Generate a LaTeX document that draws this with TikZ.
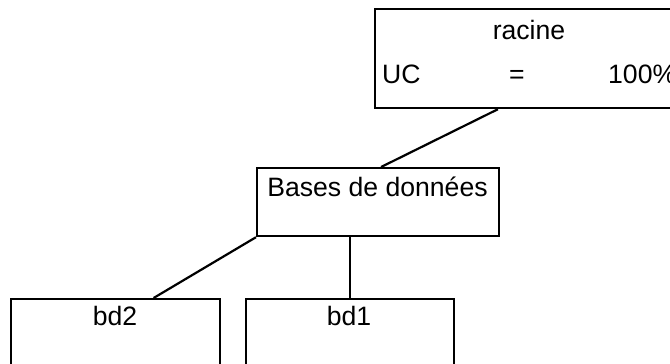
\documentclass[tikz,border=0pt]{standalone}
\usepackage{fontspec}
\setmainfont{Liberation Sans}
\usetikzlibrary{calc}
\begin{document}
\begin{tikzpicture}[x=1pt,y=-1pt,
  box/.style={draw=black, line width=2.2pt, fill=white, inner sep=0pt, anchor=north west},
  txt/.style={inner sep=0pt, anchor=base, font=\fontsize{26.6}{30}\selectfont},
  link/.style={draw=black, line width=2.2pt}]
  \useasboundingbox (0,0) rectangle (670,364);
  \clip (0,0) rectangle (670,364);

  % boxes
  \node[box, minimum width=310pt, minimum height=99pt] (racine) at (374,8) {};
  \node[box, minimum width=242pt, minimum height=68pt] (bases) at (256,167) {};
  \node[box, minimum width=209pt, minimum height=100pt] (bd2) at (10,298) {};
  \node[box, minimum width=208pt, minimum height=100pt] (bd1) at (245,298) {};

  % labels
  \node[txt] (tracine) at (529,39) {racine};
  \node[txt, anchor=base west] (tuc) at (382,83) {UC};
  \node[txt] (teq) at (517,83) {=};
  \node[txt, anchor=base west] (tpct) at (608,83) {100\%};
  \node[txt] (tbases) at (377.5,196) {Bases de données};
  \node[txt] (tbd2) at (115,325) {bd2};
  \node[txt] (tbd1) at (349,325) {bd1};

  % connectors
  \draw[link] ($(racine.south west)!0.397!(racine.south east)$) -- ($(bases.north)+(3,0)$);
  \draw[link] (bases.south west) -- ($(bd2.north west)!0.68!(bd2.north east)$);
  \draw[link] (bd1.north |- bases.south) -- (bd1.north);
\end{tikzpicture}
\end{document}
